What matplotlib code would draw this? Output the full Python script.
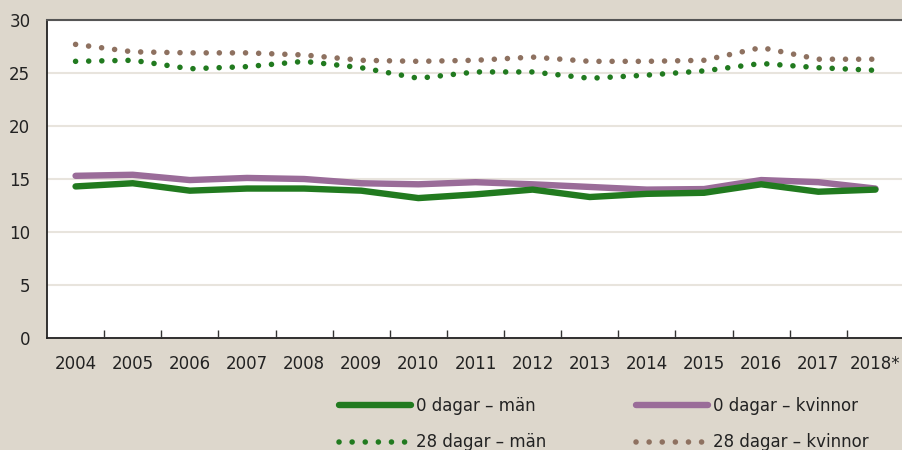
import matplotlib
matplotlib.use("Agg")
import matplotlib.pyplot as plt

years = ["2004", "2005", "2006", "2007", "2008", "2009", "2010", "2011",
         "2012", "2013", "2014", "2015", "2016", "2017", "2018*"]
men_0 = [14.3, 14.6, 13.9, 14.1, 14.1, 13.9, 13.2, 13.55, 14.0, 13.3, 13.6, 13.7, 14.5, 13.8, 14.0]
women_0 = [15.3, 15.4, 14.9, 15.1, 15.0, 14.6, 14.5, 14.7, 14.5, 14.25, 14.0, 14.05, 14.9, 14.7, 14.1]
men_28 = [26.1, 26.2, 25.4, 25.6, 26.1, 25.5, 24.5, 25.1, 25.1, 24.5, 24.8, 25.2, 25.9, 25.5, 25.25]
women_28 = [27.7, 27.0, 26.9, 26.9, 26.7, 26.2, 26.1, 26.2, 26.5, 26.1, 26.1, 26.2, 27.4, 26.3, 26.3]
yticks = [0, 5, 10, 15, 20, 25, 30]

bg = "#DDD7CC"
green = "#217A1F"
purple = "#9A6C99"
brown = "#8E7160"
txt = "#222222"

plt.rcParams['font.family'] = ['DejaVu Sans']
fig = plt.figure(figsize=(9.02, 4.5), dpi=100, facecolor=bg)
ax = fig.add_axes([47/902, 112/450, 857/902, 318/450])
ax.set_facecolor("white")

x = list(range(len(years)))
l1, = ax.plot(x, men_0, color=green, lw=4.6, solid_capstyle="round", solid_joinstyle="round", zorder=3)
l2, = ax.plot(x, women_0, color=purple, lw=4.6, solid_capstyle="round", solid_joinstyle="round", zorder=2)
dots = (0, (0.01, 2.35))
l3, = ax.plot(x, men_28, color=green, lw=4.0, linestyle=dots, dash_capstyle="round", zorder=3)
l4, = ax.plot(x, women_28, color=brown, lw=4.0, linestyle=dots, dash_capstyle="round", zorder=2)

ax.set_xlim(-0.5, len(years) - 0.5)
ax.set_ylim(0, 30)
ax.set_yticks(yticks)
ax.set_yticklabels([str(v) for v in yticks], fontsize=12, color=txt)
ax.tick_params(axis="y", length=0, pad=12)
ax.set_xticks(x)
ax.set_xticklabels(years, fontsize=12, color=txt)
ax.tick_params(axis="x", which="major", length=0, pad=12)
ax.set_xticks([i + 0.5 for i in range(len(years) - 1)], minor=True)
ax.tick_params(axis="x", which="minor", direction="in", length=6, width=1, color="#333333")
ax.grid(axis="y", color="#E8E4DD", lw=1.5, zorder=0)
ax.set_axisbelow(True)
for s in ["left", "bottom"]:
    ax.spines[s].set_color(txt)
    ax.spines[s].set_linewidth(1.3)
ax.spines["top"].set_color("#555555")
ax.spines["top"].set_linewidth(1.5)
ax.spines["right"].set_visible(False)

common = dict(frameon=False, loc="upper left", fontsize=12,
              handlelength=4.3, handletextpad=0.3, labelspacing=1.1,
              borderaxespad=0, borderpad=0)
leg1 = fig.legend([l1, l3], ["0 dagar – män", "28 dagar – män"],
                  bbox_to_anchor=(339/902, 1 - 397/450), **common)
leg2 = fig.legend([l2, l4], ["0 dagar – kvinnor", "28 dagar – kvinnor"],
                  bbox_to_anchor=(636/902, 1 - 397/450), **common)
for lg in (leg1, leg2):
    for t in lg.get_texts():
        t.set_color(txt)

fig.savefig("out.png", dpi=100, facecolor=bg)
